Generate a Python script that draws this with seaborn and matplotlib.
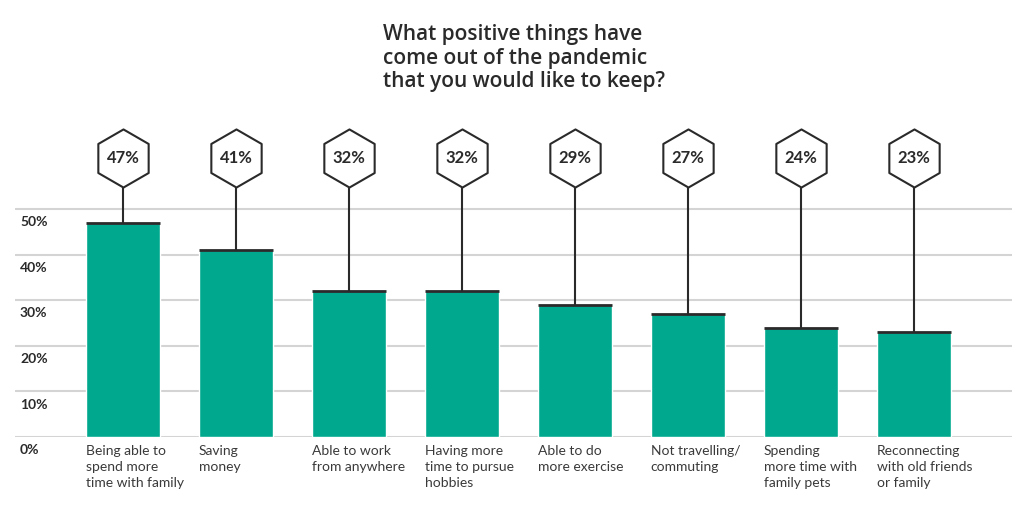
import matplotlib
matplotlib.use("Agg")
import matplotlib.pyplot as plt
import seaborn as sns

categories = [
    "Being able to\nspend more\ntime with family",
    "Saving\nmoney",
    "Able to work\nfrom anywhere",
    "Having more\ntime to pursue\nhobbies",
    "Able to do\nmore exercise",
    "Not travelling/\ncommuting",
    "Spending\nmore time with\nfamily pets",
    "Reconnecting\nwith old friends\nor family",
]
values = [47, 41, 32, 32, 29, 27, 24, 23]
value_labels = ["47%", "41%", "32%", "32%", "29%", "27%", "24%", "23%"]
y_ticks = [0, 10, 20, 30, 40, 50]
y_tick_labels = ["0%", "10%", "20%", "30%", "40%", "50%"]
title = "What positive things have\ncome out of the pandemic\nthat you would like to keep?"

sns.set_theme(style="white")
plt.rcParams["font.family"] = ["Lato", "DejaVu Sans"]

TEAL = "#00a88e"
DARK = "#2a2a2a"
GRID = "#d4d4d4"

fig = plt.figure(figsize=(10.24, 5.22), dpi=100)
ax = fig.add_axes([15 / 1024, 85 / 522, (1012 - 15) / 1024, 337 / 522])

sns.barplot(x=list(range(len(values))), y=values, color=TEAL, saturation=1,
            width=0.66, ax=ax, zorder=3)

ax.set_xlim(-0.956, 7.867)
ax.set_ylim(0, 73.9)
ax.set_yticks(y_ticks)
ax.yaxis.grid(True, color=GRID, linewidth=1.5, zorder=0)
ax.set_axisbelow(True)
ax.tick_params(left=False, bottom=False, labelleft=False, labelbottom=False)
for s in ax.spines.values():
    s.set_visible(False)
ax.set_xlabel("")
ax.set_ylabel("")

hex_y = 61.2
for i, (v, lab) in enumerate(zip(values, value_labels)):
    ax.hlines(v, i - 0.33, i + 0.33, color=DARK, linewidth=2, zorder=4)
    ax.vlines(i, v, hex_y, color=DARK, linewidth=1.5, zorder=4)
    ax.scatter([i], [hex_y], marker="h", s=1750, facecolor="white",
               edgecolor=DARK, linewidth=1.5, zorder=5, clip_on=False)
    ax.text(i, hex_y, lab, ha="center", va="center", fontsize=12,
            fontweight="bold", color=DARK, zorder=6)

for i, cat in enumerate(categories):
    ax.text(i - 0.33, -1.7, cat, ha="left", va="top", fontsize=10,
            color="#3a3a3a", linespacing=1.4, clip_on=False)

for t, tl in zip(y_ticks, y_tick_labels):
    ax.text(0.005, t - 1.6, tl, transform=ax.get_yaxis_transform(),
            ha="left", va="top", fontsize=10, fontweight="bold",
            color=DARK, clip_on=False)

fig.text(383 / 1024, 1 - 24 / 522, title, ha="left", va="top",
         fontsize=15, fontweight="semibold", color=DARK, linespacing=1.16,
         family=["Open Sans", "DejaVu Sans"])

fig.savefig("out.png", dpi=100, facecolor="white")
